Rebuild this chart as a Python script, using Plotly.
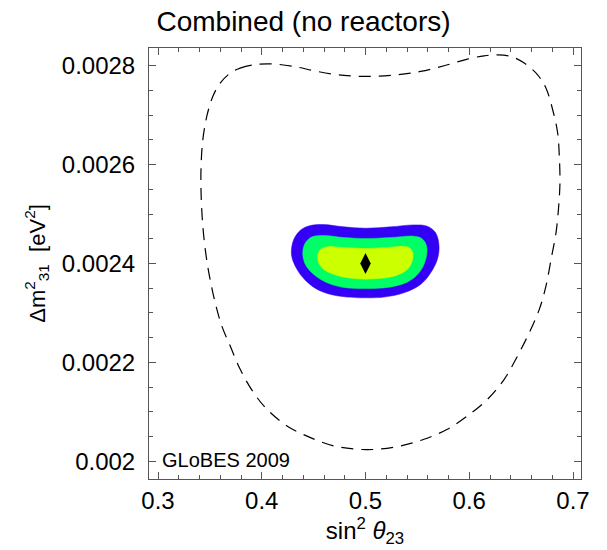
import plotly.graph_objects as go

# Dashed outer contour (sin^2 theta23, dm31^2)
dash_x = [0.3696, 0.3792, 0.3921, 0.4082, 0.4308, 0.4533, 0.4791, 0.5048, 0.5306, 0.5531,
          0.5757, 0.5982, 0.6143, 0.6272, 0.6401, 0.6530, 0.6659, 0.6739, 0.6804, 0.6852,
          0.6868, 0.6874, 0.6862, 0.6836, 0.6794, 0.6739, 0.6675, 0.6578, 0.6465, 0.6337,
          0.6176, 0.5982, 0.5789, 0.5564, 0.5338, 0.5113, 0.4919, 0.4694, 0.4469, 0.4243,
          0.4050, 0.3921, 0.3792, 0.3696, 0.3615, 0.3551, 0.3502, 0.3464, 0.3432, 0.3415,
          0.3415, 0.3432, 0.3470, 0.3528, 0.3599, 0.3696]
dash_y = [0.0027852, 0.0027953, 0.002802, 0.002804, 0.0027987, 0.0027886, 0.0027805, 0.0027785,
          0.0027818, 0.0027886, 0.0028, 0.0028135, 0.0028202, 0.0028222, 0.0028189, 0.0028054,
          0.0027818, 0.0027549, 0.0027111, 0.002664, 0.0026168, 0.002563, 0.0025158, 0.002462,
          0.0024148, 0.0023542, 0.0023071, 0.0022599, 0.0022128, 0.0021657, 0.0021253, 0.0020916,
          0.0020647, 0.0020444, 0.002031, 0.0020242, 0.0020242, 0.002031, 0.0020478, 0.0020714,
          0.0021051, 0.0021387, 0.0021859, 0.002233, 0.0022734, 0.0023205, 0.0023677, 0.0024148,
          0.0024754, 0.0025428, 0.0025966, 0.0026505, 0.0026976, 0.002738, 0.002765, 0.0027852]

blue_x = [0.4285, 0.4308, 0.4372, 0.4469, 0.4597, 0.4791, 0.5, 0.5242, 0.5467, 0.5596, 0.5676,
          0.5709, 0.5692, 0.5628, 0.5531, 0.5370, 0.5177, 0.5, 0.4823, 0.4630, 0.4485, 0.4372,
          0.4308, 0.4285]
blue_y = [0.0024215, 0.0024485, 0.0024673, 0.0024768, 0.0024788, 0.0024741, 0.0024714, 0.0024741,
          0.0024781, 0.0024754, 0.002462, 0.002435, 0.0024081, 0.0023811, 0.0023576, 0.0023407,
          0.002332, 0.0023306, 0.002332, 0.0023394, 0.0023542, 0.0023778, 0.0024013, 0.0024215]

green_x = [0.4395, 0.4420, 0.4485, 0.4597, 0.4791, 0.5, 0.5242, 0.5467, 0.5548, 0.5589, 0.5580,
           0.5515, 0.5403, 0.5209, 0.5, 0.4791, 0.4630, 0.4501, 0.4420, 0.4395]
green_y = [0.0024215, 0.0024418, 0.0024539, 0.0024566, 0.0024525, 0.0024505, 0.0024525, 0.0024552,
           0.0024498, 0.002435, 0.0024081, 0.0023811, 0.0023623, 0.0023515, 0.0023495, 0.0023515,
           0.0023609, 0.0023778, 0.002398, 0.0024215]

yellow_x = [0.4539, 0.4565, 0.4630, 0.4791, 0.5, 0.5242, 0.5403, 0.5451, 0.5454, 0.5403, 0.5274,
            0.5081, 0.4919, 0.4726, 0.4597, 0.4549, 0.4539]
yellow_y = [0.0024148, 0.0024283, 0.0024337, 0.0024323, 0.0024303, 0.002433, 0.0024337, 0.0024249,
            0.0024081, 0.0023879, 0.0023744, 0.002369, 0.002369, 0.0023758, 0.0023879, 0.0024013,
            0.0024148]

best_x = [0.5]
best_y = [0.0024]

x_ticks = [0.3, 0.4, 0.5, 0.6, 0.7]
x_labels = ["0.3", "0.4", "0.5", "0.6", "0.7"]
y_ticks = [0.002, 0.0022, 0.0024, 0.0026, 0.0028]
y_labels = ["0.002", "0.0022", "0.0024", "0.0026", "0.0028"]

FONT = "Liberation Sans, Arial"

fig = go.Figure()
for xs, ys, col in [(blue_x, blue_y, "#3300F5"), (green_x, green_y, "#00FF66"),
                    (yellow_x, yellow_y, "#CCFF00")]:
    fig.add_trace(go.Scatter(x=xs, y=ys, mode="lines", fill="toself", fillcolor=col,
                             line=dict(color=col, width=0.5, shape="spline", smoothing=1.0),
                             hoverinfo="skip", showlegend=False))
fig.add_trace(go.Scatter(x=dash_x, y=dash_y, mode="lines",
                         line=dict(color="black", width=1.2, dash="12px,8px", shape="spline", smoothing=1.0),
                         showlegend=False))
fig.add_trace(go.Scatter(x=best_x, y=best_y, mode="markers",
                         marker=dict(symbol="diamond-tall", size=15, color="black"),
                         showlegend=False))

fig.add_annotation(x=0.0, y=0.0, xref="paper", yref="paper", xanchor="left", yanchor="bottom",
                   xshift=11, yshift=6, text="GLoBES 2009", showarrow=False,
                   font=dict(family=FONT, size=20, color="black"))

axis_common = dict(ticks="inside", mirror="allticks", showline=True, linecolor="#555555",
                   linewidth=1, tickcolor="#555555", ticklen=7, showgrid=False, zeroline=False,
                   tickfont=dict(family=FONT, size=24, color="black"))

fig.update_xaxes(range=[0.2913, 0.7077], tickvals=x_ticks, ticktext=x_labels,
                 minor=dict(ticks="inside", tickvals=[round(0.3 + 0.02 * i, 2) for i in range(21)],
                            ticklen=4, tickcolor="#555555"),
                 title=dict(text="sin<sup>2</sup> <i>θ</i><sub>23</sub>", standoff=4,
                            font=dict(family=FONT, size=24, color="black")),
                 **axis_common)
fig.update_yaxes(range=[0.001964, 0.002836], tickvals=y_ticks, ticktext=y_labels,
                 ticklabelstandoff=8,
                 minor=dict(ticks="inside", tickvals=[0.002 + 0.00005 * i for i in range(17)],
                            ticklen=4, tickcolor="#555555"),
                 title=dict(text="Δm<sup>2</sup><sub>31</sub>  [eV<sup>2</sup>]", standoff=10,
                            font=dict(family=FONT, size=22, color="black")),
                 **axis_common)

fig.update_layout(
    width=607, height=550,
    margin=dict(l=149, r=26, t=48, b=71),
    plot_bgcolor="white", paper_bgcolor="white",
    title=dict(text="Combined (no reactors)", x=0.5, xanchor="center", y=0.962, yanchor="middle",
               font=dict(family=FONT, size=28, color="black")),
)

fig.write_html("out.html")
